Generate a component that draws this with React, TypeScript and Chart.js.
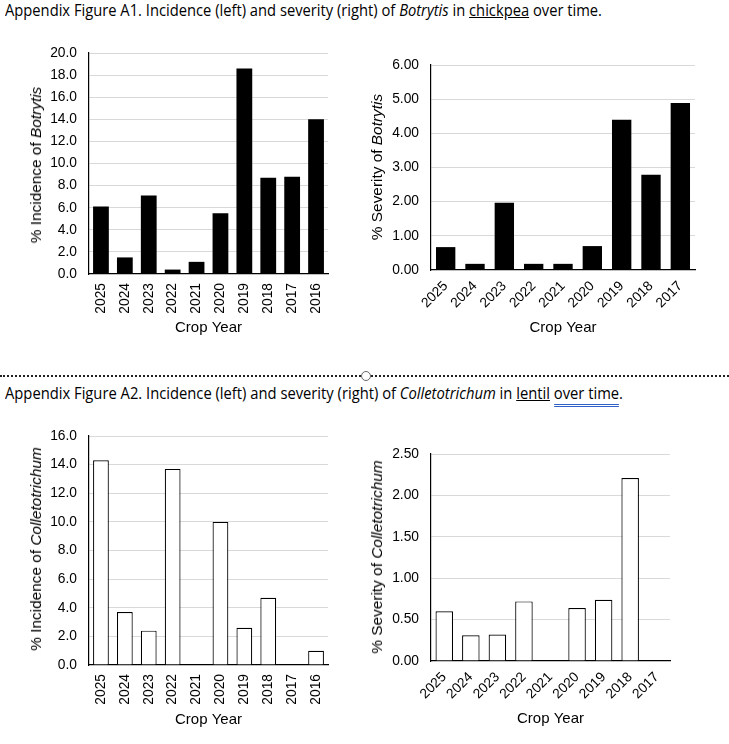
import React, { useEffect, useLayoutEffect, useRef } from 'react';
import { Chart, registerables } from 'chart.js';

Chart.register(...registerables);

// ---------- data ----------
const botrytisIncidenceYears = ['2025', '2024', '2023', '2022', '2021', '2020', '2019', '2018', '2017', '2016'];
const botrytisIncidence = [6.1, 1.5, 7.1, 0.4, 1.1, 5.5, 18.6, 8.7, 8.8, 14.0];

const botrytisSeverityYears = ['2025', '2024', '2023', '2022', '2021', '2020', '2019', '2018', '2017'];
const botrytisSeverity = [0.67, 0.18, 1.97, 0.18, 0.18, 0.7, 4.4, 2.79, 4.89];

const colletoIncidenceYears = ['2025', '2024', '2023', '2022', '2021', '2020', '2019', '2018', '2017', '2016'];
const colletoIncidence = [14.3, 3.7, 2.4, 13.7, 0, 10.0, 2.6, 4.7, 0, 1.0];

const colletoSeverityYears = ['2025', '2024', '2023', '2022', '2021', '2020', '2019', '2018', '2017'];
const colletoSeverity = [0.6, 0.31, 0.32, 0.72, 0, 0.64, 0.74, 2.21, 0];

const AXIS_FONT = '"Liberation Sans", Arial, sans-serif';
const TITLE_FONT = '"Open Sans", "Liberation Sans", sans-serif';

type BarProps = {
  labels: string[];
  values: number[];
  fill: string;
  max: number;
  step: number;
  decimals: number;
  rotation: number;
  left: number;
  top: number;
  width: number;
  height: number;
  yScaleWidth: number;
  xScaleHeight: number;
  padTop: number;
  padRight: number;
  titlePadBottom: number;
  xTickPad: number;
};

function BarChart(p: BarProps) {
  const ref = useRef<HTMLCanvasElement>(null);
  useEffect(() => {
    if (!ref.current) return;
    const outlined = p.fill !== '#000000';
    const chart = new Chart(ref.current, {
      type: 'bar',
      data: {
        labels: p.labels,
        datasets: [
          {
            data: p.values,
            backgroundColor: p.fill,
            borderColor: '#000000',
            borderWidth: outlined ? 1.2 : 0,
            barPercentage: 0.66,
            categoryPercentage: 1,
          },
        ],
      },
      options: {
        animation: false,
        responsive: false,
        maintainAspectRatio: false,
        layout: { padding: { top: p.padTop, right: p.padRight, left: 0, bottom: 0 } },
        plugins: { legend: { display: false }, tooltip: { enabled: false } },
        scales: {
          x: {
            z: 1,
            grid: { display: true, drawOnChartArea: false, drawTicks: false },
            border: { display: true, color: '#000000', width: 1.2 },
            ticks: {
              autoSkip: false,
              minRotation: p.rotation,
              maxRotation: p.rotation,
              padding: p.xTickPad,
              color: '#000000',
              font: { family: AXIS_FONT, size: 13.8 },
            },
            title: {
              display: true,
              text: 'Crop Year',
              color: '#000000',
              font: { family: AXIS_FONT, size: 15 },
              padding: { top: 0, bottom: p.titlePadBottom },
            },
            afterFit: (s: any) => {
              s.height = p.xScaleHeight;
            },
          },
          y: {
            min: 0,
            max: p.max,
            grid: {
              color: (ctx: any) => (ctx.tick && ctx.tick.value === 0 ? 'rgba(0,0,0,0)' : '#d9d9d9'),
              drawTicks: false,
            },
            border: { display: true, color: '#000000', width: 1.2 },
            ticks: {
              stepSize: p.step,
              padding: 12,
              color: '#000000',
              font: { family: AXIS_FONT, size: 13.8 },
              callback: (v: any) => Number(v).toFixed(p.decimals),
            },
            afterFit: (s: any) => {
              s.width = p.yScaleWidth;
            },
          },
        },
      },
    });
    return () => chart.destroy();
  }, []);
  return (
    <canvas
      ref={ref}
      width={p.width}
      height={p.height}
      style={{ position: 'absolute', left: p.left, top: p.top, width: p.width, height: p.height }}
    />
  );
}

function YTitle({ cx, cy, lead, italic }: { cx: number; cy: number; lead: string; italic: string }) {
  return (
    <div
      style={{
        position: 'absolute',
        left: cx,
        top: cy,
        transform: 'translate(-50%, -50%) rotate(-90deg)',
        whiteSpace: 'nowrap',
        fontFamily: AXIS_FONT,
        fontSize: 15.4,
        lineHeight: '18px',
        color: '#000',
      }}
    >
      {lead}
      <i>{italic}</i>
    </div>
  );
}

function FitText({ target, left, top, size, children }: { target: number; left: number; top: number; size: number; children: React.ReactNode }) {
  const ref = useRef<HTMLDivElement>(null);
  useLayoutEffect(() => {
    const el = ref.current;
    if (!el) return;
    el.style.transform = 'none';
    const w = el.getBoundingClientRect().width;
    if (w > 0) el.style.transform = `scaleX(${target / w})`;
  });
  return (
    <div
      ref={ref}
      style={{
        position: 'absolute',
        left,
        top,
        whiteSpace: 'nowrap',
        transformOrigin: 'left top',
        fontFamily: TITLE_FONT,
        fontSize: size,
        lineHeight: 1.2,
        color: '#000',
      }}
    >
      {children}
    </div>
  );
}

export default function App() {
  return (
    <div style={{ position: 'absolute', left: 0, top: 0, width: 729, height: 744, background: '#fff', overflow: 'hidden' }}>
      <FitText target={597} left={5} top={1} size={15.5}>
        Appendix Figure A1. Incidence (left) and severity (right) of <i>Botrytis</i> in{' '}
        <span style={{ textDecoration: 'underline' }}>chickpea</span> over time.
      </FitText>

      <BarChart
        labels={botrytisIncidenceYears}
        values={botrytisIncidence}
        fill="#000000"
        max={20}
        step={2}
        decimals={1}
        rotation={90}
        left={0}
        top={30}
        width={360}
        height={310}
        yScaleWidth={89}
        xScaleHeight={66}
        padTop={23}
        padRight={32}
        titlePadBottom={3}
        xTickPad={9}
      />
      <YTitle cx={36} cy={165} lead="% Incidence of " italic="Botrytis" />

      <BarChart
        labels={botrytisSeverityYears}
        values={botrytisSeverity}
        fill="#000000"
        max={6}
        step={1}
        decimals={2}
        rotation={45}
        left={360}
        top={30}
        width={369}
        height={310}
        yScaleWidth={71}
        xScaleHeight={70}
        padTop={35}
        padRight={34}
        titlePadBottom={3}
        xTickPad={8}
      />
      <YTitle cx={377} cy={167} lead="% Severity of " italic="Botrytis" />

      <div
        style={{
          position: 'absolute',
          left: 0,
          top: 375,
          width: 729,
          height: 0,
          borderTop: '2px dotted #222',
        }}
      />
      <div
        style={{
          position: 'absolute',
          left: 361,
          top: 371,
          width: 8,
          height: 8,
          borderRadius: '50%',
          border: '1.5px solid #666',
          background: '#fff',
        }}
      />

      <FitText target={618} left={5} top={384} size={15.5}>
        Appendix Figure A2. Incidence (left) and severity (right) of <i>Colletotrichum</i> in{' '}
        <span style={{ textDecoration: 'underline' }}>lentil</span>{' '}
        <span style={{ borderBottom: '3px double #2f62c8' }}>over time</span>.
      </FitText>

      <BarChart
        labels={colletoIncidenceYears}
        values={colletoIncidence}
        fill="#ffffff"
        max={16}
        step={2}
        decimals={1}
        rotation={90}
        left={0}
        top={410}
        width={360}
        height={334}
        yScaleWidth={89}
        xScaleHeight={79}
        padTop={26}
        padRight={32}
        titlePadBottom={15}
        xTickPad={9}
      />
      <YTitle cx={36} cy={549} lead="% Incidence of " italic="Colletotrichum" />

      <BarChart
        labels={colletoSeverityYears}
        values={colletoSeverity}
        fill="#ffffff"
        max={2.5}
        step={0.5}
        decimals={2}
        rotation={45}
        left={360}
        top={410}
        width={369}
        height={334}
        yScaleWidth={71}
        xScaleHeight={83}
        padTop={44}
        padRight={59}
        titlePadBottom={16}
        xTickPad={8}
      />
      <YTitle cx={377} cy={557} lead="% Severity of " italic="Colletotrichum" />
    </div>
  );
}
